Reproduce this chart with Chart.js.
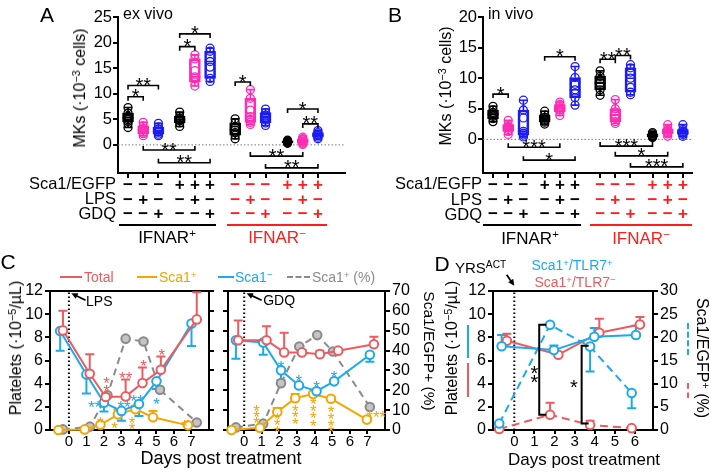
<!DOCTYPE html>
<html>
<head>
<meta charset="utf-8">
<script src="https://cdn.jsdelivr.net/npm/chart.js@4.4.1/dist/chart.umd.min.js"></script>
<style>
body { margin: 0; background: #fff; }
#fig { position: relative; width: 711px; height: 475px; overflow: hidden; background: #fff;
       font-family: 'Liberation Sans', Arial, Helvetica, sans-serif; color: #000; }
#fig canvas { position: absolute; }
.t { position: absolute; white-space: nowrap; line-height: 1; }
.c { transform: translate(-50%, -50%); }
.r { transform: translate(-100%, -50%); }
.l { transform: translate(0, -50%); }
.up { transform: translate(-50%, -50%) rotate(-90deg); }
.dn { transform: translate(-50%, -50%) rotate(90deg); }
sup { font-size: 0.68em; vertical-align: 0.45em; line-height: 0; }
.rule { position: absolute; height: 2px; }
.vbar { position: absolute; width: 0; }
</style>
</head>
<body>
<div id="fig">
  <canvas id="chartA" width="355" height="222" style="left:0;top:0"></canvas>
  <canvas id="chartB" width="356" height="222" style="left:355px;top:0"></canvas>
  <canvas id="chartC1" width="218" height="210" style="left:0;top:240px"></canvas>
  <canvas id="chartC2" width="222" height="210" style="left:218px;top:240px"></canvas>
  <canvas id="chartD" width="271" height="210" style="left:440px;top:240px"></canvas>

  <!-- panel A -->
  <div class="t c" style="left:47px;top:14px;font-size:21px">A</div>
  <div class="t l" style="left:123px;top:14px;font-size:16px">ex vivo</div>
  <div class="t up" style="left:80px;top:88px;font-size:16px">MKs (·10<sup>−3</sup> cells)</div>
  <div class="t r" style="left:116px;top:183px;font-size:16.5px">Sca1/EGFP</div>
  <div class="t r" style="left:116px;top:198px;font-size:16.5px">LPS</div>
  <div class="t r" style="left:116px;top:212.5px;font-size:16.5px">GDQ</div>
  <div class="rule" style="left:119px;top:224px;width:97px;background:#000"></div>
  <div class="rule" style="left:227px;top:224px;width:100px;background:#ff1d1d"></div>
  <div class="t c" style="left:167px;top:237px;font-size:17px">IFNAR<sup>+</sup></div>
  <div class="t c" style="left:277px;top:237px;font-size:17px;color:#ff1d1d">IFNAR<sup>−</sup></div>

  <!-- panel B -->
  <div class="t c" style="left:395px;top:14px;font-size:21px">B</div>
  <div class="t l" style="left:488px;top:14px;font-size:16px">in vivo</div>
  <div class="t up" style="left:446px;top:86px;font-size:16px">MKs (·10<sup>−3</sup> cells)</div>
  <div class="t r" style="left:482px;top:183px;font-size:16.5px">Sca1/EGFP</div>
  <div class="t r" style="left:482px;top:198.5px;font-size:16.5px">LPS</div>
  <div class="t r" style="left:482px;top:213.5px;font-size:16.5px">GDQ</div>
  <div class="rule" style="left:483px;top:224px;width:98px;background:#000"></div>
  <div class="rule" style="left:590px;top:224px;width:102px;background:#ff1d1d"></div>
  <div class="t c" style="left:530px;top:238px;font-size:17px">IFNAR<sup>+</sup></div>
  <div class="t c" style="left:641px;top:238px;font-size:17px;color:#ff1d1d">IFNAR<sup>−</sup></div>

  <!-- panel C -->
  <div class="t c" style="left:8px;top:261px;font-size:21px">C</div>
  <div class="rule" style="left:60px;top:276px;width:22px;background:#ec5b60"></div>
  <div class="t l" style="left:84px;top:277px;font-size:14px;color:#ec5b60">Total</div>
  <div class="rule" style="left:137px;top:276px;width:20px;background:#f2a600"></div>
  <div class="t l" style="left:159px;top:277px;font-size:14px;color:#f2a600">Sca1<sup>+</sup></div>
  <div class="rule" style="left:218px;top:276px;width:16px;background:#1da9ee"></div>
  <div class="t l" style="left:235px;top:277px;font-size:14px;color:#1da9ee">Sca1<sup>−</sup></div>
  <div class="rule" style="left:287px;top:276px;width:23px;height:0;border-top:2px dashed #8a8a8a"></div>
  <div class="t l" style="left:312px;top:277px;font-size:14px;color:#8a8a8a">Sca1<sup>+</sup> (%)</div>
  <div class="t up" style="left:16px;top:348px;font-size:16px">Platelets (·10<sup>−5</sup>/µL)</div>
  <div class="t dn" style="left:429px;top:351px;font-size:15.5px">Sca1/EGFP+ (%)</div>
  <div class="t c" style="left:221px;top:458px;font-size:18px">Days post treatment</div>

  <!-- panel D -->
  <div class="t c" style="left:442px;top:263px;font-size:21px">D</div>
  <div class="t l" style="left:455px;top:267px;font-size:15px">YRS<sup>ACT</sup></div>
  <div class="t c" style="left:572px;top:265px;font-size:14px;color:#1da9ee">Sca1<sup>+</sup>/TLR7<sup>+</sup></div>
  <div class="t c" style="left:575px;top:282px;font-size:14px;color:#ec5b60">Sca1<sup>+</sup>/TLR7<sup>−</sup></div>
  <div class="t up" style="left:452px;top:348px;font-size:16px">Platelets (·10<sup>−5</sup>/µL)</div>
  <div class="vbar" style="left:467px;top:325px;height:33px;border-left:2px solid #1da9ee"></div>
  <div class="vbar" style="left:467px;top:363px;height:34px;border-left:2px solid #ec5b60"></div>
  <div class="t dn" style="left:702px;top:358px;font-size:16px">Sca1/EGFP<sup>+</sup> (%)</div>
  <div class="vbar" style="left:687px;top:323px;height:32px;border-left:2px dashed #1da9ee"></div>
  <div class="vbar" style="left:687px;top:383px;height:15px;border-left:2px dashed #ec5b60"></div>
  <div class="t c" style="left:584px;top:459px;font-size:17px">Days post treatment</div>
</div>

<script>
const FONT = "'Liberation Sans', Arial, Helvetica, sans-serif";
Chart.defaults.font.family = FONT;
Chart.defaults.color = "#000";

const BLACK = "#000000", PINK = "#ff2db4", BLUE = "#1c1cf5", RED = "#ff1d1d";
const C_RED = "#ec5b60", C_YEL = "#f2a600", C_CYAN = "#1da9ee", C_GREY = "#8a8a8a";

// ---- panels A / B: 12 groups, 4 triplets (untreated, LPS, GDQ) ----
const SLOTS = [1, 2, 3, 4.4, 5.4, 6.4, 8.05, 9.05, 10.05, 11.5, 12.5, 13.5];
const GROUP_COLORS = [BLACK, PINK, BLUE, BLACK, PINK, BLUE, BLACK, PINK, BLUE, BLACK, PINK, BLUE];
const SCA1_ROW = ["−", "−", "−", "+", "+", "+", "−", "−", "−", "+", "+", "+"];
const LPS_ROW  = ["−", "+", "−", "−", "+", "−", "−", "+", "−", "−", "+", "−"];
const GDQ_ROW  = ["−", "−", "+", "−", "−", "+", "−", "−", "+", "−", "−", "+"];

// A: ex vivo MKs (x10^-3 cells)
const A_MIN = [3.4, 1.8, 1.8, 3.6, 11.5, 12.4, 1.2, 4.0, 3.8, 0.3, 0.1, 1.2];
const A_Q1  = [4.5, 2.2, 2.1, 4.3, 12.3, 13.0, 1.9, 4.4, 4.3, 0.4, 0.3, 1.5];
const A_MED = [5.3, 2.9, 2.7, 4.9, 13.3, 16.3, 2.9, 5.5, 5.4, 0.6, 0.7, 1.9];
const A_Q3  = [6.2, 3.7, 3.5, 5.6, 16.8, 18.3, 4.3, 9.1, 6.3, 0.8, 1.2, 2.4];
const A_MAX = [7.3, 4.4, 4.2, 6.4, 17.6, 18.9, 5.1, 10.8, 7.0, 0.9, 1.5, 2.8];
const A_PTS = [
  [3.4, 4.2, 4.6, 5.0, 5.3, 5.6, 6.2, 7.3],
  [1.8, 2.2, 2.5, 2.9, 3.2, 3.7, 4.4],
  [1.8, 2.1, 2.5, 2.7, 3.1, 3.5, 4.2],
  [3.6, 4.3, 4.7, 4.9, 5.2, 5.6, 6.4],
  [11.5, 12.3, 13.0, 13.3, 14.5, 16.8, 17.6],
  [12.4, 13.0, 15.2, 16.3, 18.3, 18.9],
  [1.2, 1.9, 2.4, 2.9, 3.5, 4.3, 5.1],
  [4.0, 4.4, 5.0, 5.5, 6.8, 9.1, 10.8],
  [3.8, 4.3, 4.9, 5.4, 5.8, 6.3, 7.0],
  [0.3, 0.4, 0.5, 0.6, 0.7, 0.8, 0.9],
  [0.1, 0.3, 0.5, 0.7, 1.0, 1.2, 1.5],
  [1.2, 1.5, 1.8, 1.9, 2.1, 2.4, 2.8]
];
// [from group, to group, height, stars]
const A_BRACKETS = [
  [0, 1, 9.4, "*"], [0, 2, 11.6, "**"], [3, 4, 19.2, "*"], [3, 5, 21.7, "*"],
  [6, 7, 12.3, "*"], [9, 11, 7.0, "*"], [10, 11, 4.1, "**"],
  [1, 4, -1.0, "**"], [2, 5, -3.5, "**"], [7, 10, -2.2, "**"], [8, 11, -4.5, "**"]
];

// B: in vivo MKs (x10^-3 cells)
const B_MIN = [2.9, 0.8, 0.4, 2.5, 3.9, 5.6, 7.2, 2.6, 7.3, 0.3, 0.5, 0.5];
const B_Q1  = [3.4, 1.3, 0.7, 2.8, 4.5, 6.8, 8.1, 2.9, 7.7, 0.4, 0.9, 0.8];
const B_MED = [4.1, 1.9, 1.3, 3.3, 5.1, 8.1, 9.2, 4.0, 10.0, 0.6, 1.3, 1.1];
const B_Q3  = [4.8, 2.4, 4.8, 4.0, 5.7, 10.1, 10.3, 5.0, 11.7, 0.9, 1.7, 1.6];
const B_MAX = [5.4, 3.1, 6.4, 4.6, 6.1, 11.9, 11.2, 6.5, 12.2, 1.1, 2.4, 2.4];
const B_PTS = [
  [2.9, 3.4, 3.8, 4.1, 4.4, 4.8, 5.4],
  [0.8, 1.3, 1.6, 1.9, 2.1, 2.4, 3.1],
  [0.4, 0.7, 1.0, 1.3, 3.5, 4.8, 6.4],
  [2.5, 2.8, 3.0, 3.3, 3.6, 4.0, 4.6],
  [3.9, 4.5, 4.8, 5.1, 5.4, 5.7, 6.1],
  [5.6, 6.8, 7.5, 8.1, 9.0, 10.1, 11.9],
  [7.2, 8.1, 8.7, 9.2, 9.8, 10.3, 11.2],
  [2.6, 2.9, 3.4, 4.0, 4.5, 5.0, 6.5],
  [7.3, 7.7, 8.5, 10.0, 11.0, 11.7, 12.2],
  [0.3, 0.4, 0.5, 0.6, 0.7, 0.9, 1.1],
  [0.5, 0.9, 1.1, 1.3, 1.5, 1.7, 2.4],
  [0.5, 0.8, 1.0, 1.1, 1.3, 1.6, 2.4]
];
const B_BRACKETS = [
  [0, 1, 7.4, "*"], [3, 5, 13.5, "*"], [6, 7, 13.1, "**"], [7, 8, 13.7, "**"],
  [1, 4, -1.3, "***"], [2, 5, -3.4, "*"], [6, 9, -1.1, "***"], [7, 10, -2.7, "*"], [8, 11, -4.5, "***"]
];

// ---- panel C: platelets after LPS / GDQ ----
const LPS_TOTAL_X  = [-0.34, 1.19, 2.1, 3.24, 4.2, 5.25, 7.3];
const LPS_TOTAL    = [8.6, 4.85, 2.85, 2.9, 4.05, 5.2, 9.55];
const LPS_TOTAL_HI = [10.3, 6.55, 3.1, 4.35, 5.4, 6.35, 11.9];
const LPS_NEG_X    = [-0.5, 1.0, 2.0, 3.0, 4.0, 5.0, 7.0];
const LPS_NEG      = [8.55, 4.8, 2.35, 1.65, 2.25, 4.2, 9.2];
const LPS_NEG_LO   = [6.85, 3.15, 1.6, 0.8, 1.2, 3.55, 7.25];
const LPS_POS_X    = [-0.6, 0.9, 1.8, 2.8, 3.8, 4.8, 6.8];
const LPS_POS      = [0, 0.05, 0.45, 1.35, 1.8, 1.1, 0.4];
const LPS_POS_HI   = [0, 0.05, 0.5, 1.75, 2.1, 1.65, 0.5];
const LPS_PCT_X    = [-0.34, 1.2, 2.2, 3.24, 4.26, 5.2, 7.3];
const LPS_PCT      = [0.3, 1.7, 17.5, 46, 44.6, 20.3, 3.8];
// [day, value, stars, series]
const LPS_STARS = [
  [2.15, 4.4, "*", "total"], [2.15, 3.7, "*", "total"], [3.24, 4.85, "**", "total"],
  [4.26, 5.85, "*", "total"], [5.3, 6.85, "*", "total"],
  [1.48, 2.3, "**", "neg"], [3.15, 2.3, "**", "neg"], [3.9, 2.85, "**", "neg"], [5.0, 2.6, "*", "neg"],
  [1.8, 0.95, "*", "pos"], [2.6, 0.5, "*", "pos"], [3.6, 0.98, "*", "pos"], [3.6, 0.45, "*", "pos"],
  [6.6, 0.66, "*", "pos"]
];

const GDQ_TOTAL_X  = [-0.34, 1.27, 2.27, 3.28, 4.3, 5.34, 7.37];
const GDQ_TOTAL    = [7.75, 7.75, 6.7, 6.7, 6.55, 6.85, 7.4];
const GDQ_TOTAL_HI = [9.45, 8.95, 8.4, 6.9, 6.85, 7.0, 8.05];
const GDQ_NEG_X    = [-0.47, 1.08, 2.09, 3.11, 4.11, 5.11, 7.14];
const GDQ_NEG      = [7.75, 7.55, 5.15, 3.85, 3.35, 4.2, 6.5];
const GDQ_NEG_LO   = [6.15, 6.5, 4.3, 3.7, 3.25, 4.05, 5.9];
const GDQ_POS_X    = [-0.72, 0.89, 1.88, 2.9, 3.92, 4.93, 6.97];
const GDQ_POS      = [0, 0.2, 1.55, 2.75, 3.1, 2.7, 0.9];
const GDQ_POS_HI   = [0, 0.2, 1.9, 3.1, 3.3, 2.8, 1.1];
const GDQ_PCT_X    = [-0.47, 1.08, 2.09, 3.13, 4.15, 5.04, 7.14];
const GDQ_PCT      = [1.3, 3.2, 23.6, 42, 47.8, 39.5, 11.6];
const GDQ_STARS = [
  [2.09, 5.8, "*", "neg"], [3.11, 4.55, "*", "neg"], [4.11, 4.05, "*", "neg"], [5.11, 4.9, "*", "neg"],
  [0.7, 2.0, "*", "pos"], [0.7, 1.43, "*", "pos"], [0.7, 0.9, "*", "pos"],
  [1.88, 1.3, "*", "pos"], [1.88, 0.75, "*", "pos"], [1.88, 0.2, "*", "pos"],
  [2.9, 2.0, "*", "pos"], [2.9, 1.43, "*", "pos"], [2.9, 0.85, "*", "pos"],
  [3.92, 2.56, "*", "pos"], [3.92, 2.0, "*", "pos"], [3.92, 1.34, "*", "pos"], [3.92, 0.71, "*", "pos"],
  [4.93, 1.85, "*", "pos"], [4.93, 1.28, "*", "pos"], [4.93, 0.71, "*", "pos"], [4.93, 0.15, "*", "pos"],
  [7.5, 1.45, "***", "pos"]
];

// ---- panel D: TLR7+ vs TLR7- Sca1+ cells after YRS-ACT ----
const D_POS_X      = [-0.63, 1.97, 3.98, 6.05];
const D_POS        = [7.23, 6.9, 8.05, 8.2];
const D_POS_HI     = [8.2, 7.3, 8.8, 9.0];
const D_NEG_X      = [-0.37, 2.19, 4.23, 6.25];
const D_NEG        = [7.7, 6.5, 8.4, 9.1];
const D_NEG_HI     = [8.3, 6.7, 9.6, 9.75];
const D_PCT_X      = [-0.75, 1.78, 3.77, 5.84];
const D_POS_PCT    = [1.4, 22.7, 18.0, 8.0];
const D_POS_PCT_LO = [1.4, 22.7, 12.6, 4.7];
const D_NEG_PCT    = [0.2, 3.3, 1.1, 0.4];
const D_NEG_PCT_HI = [0.2, 5.9, 2.0, 0.4];
// vertical brackets in % units: [day, top, bottom]
const D_BRACKETS = [[1.24, 22.7, 3.3], [3.35, 18.2, 1.4]];
const D_STARS = [[1.0, 5.3, "*", "k"], [1.0, 4.55, "*", "k"], [2.97, 4.1, "*", "k"]];

const SERIES_COLOR = { total: C_RED, neg: C_CYAN, pos: C_YEL, k: BLACK };

// ---------- helpers ----------
function pts(xs, ys) { return xs.map((x, i) => ({ x: x, y: ys[i] })); }

function drawStar(ctx, text, cx, cy, size, color) {
  ctx.font = size + "px " + FONT;
  ctx.fillStyle = color;
  ctx.textAlign = "center";
  ctx.textBaseline = "alphabetic";
  ctx.fillText(text, cx, cy + 0.58 * size);
}

function axis(extra) {
  const base = {
    border: { color: "#000", width: 2 },
    grid: { display: true, drawOnChartArea: false, color: "#000", lineWidth: 2, tickLength: 5 },
    ticks: { color: "#000", font: { size: 16 }, padding: 1, autoSkip: false, maxRotation: 0 }
  };
  const out = Object.assign({}, base, extra);
  out.grid = Object.assign({}, base.grid, extra.grid || {});
  out.ticks = Object.assign({}, base.ticks, extra.ticks || {});
  return out;
}

// ---------- box plot panels ----------
function boxChart(id, yMax, yAxisW, padRight, xMax, mins, q1s, meds, q3s, maxs, ptsList, brackets) {
  const pointData = [];
  ptsList.forEach((list, g) => list.forEach(v => pointData.push({ x: SLOTS[g], y: v, g: g })));

  const boxExtras = {
    id: "boxExtras",
    beforeDatasetsDraw(chart) {
      const { ctx, scales: { x, y } } = chart;
      ctx.save();
      // dotted zero line
      ctx.strokeStyle = "#777"; ctx.lineWidth = 1; ctx.setLineDash([1.5, 2]);
      ctx.beginPath();
      ctx.moveTo(chart.chartArea.left, y.getPixelForValue(0));
      ctx.lineTo(chart.chartArea.right, y.getPixelForValue(0));
      ctx.stroke();
      ctx.setLineDash([]);
      // whiskers + medians
      ctx.lineWidth = 1.6;
      SLOTS.forEach((s, i) => {
        const px = x.getPixelForValue(s);
        const yMin = y.getPixelForValue(mins[i]), yMx = y.getPixelForValue(maxs[i]);
        const yQ1 = y.getPixelForValue(q1s[i]), yQ3 = y.getPixelForValue(q3s[i]);
        const yMed = y.getPixelForValue(meds[i]);
        ctx.strokeStyle = GROUP_COLORS[i];
        ctx.beginPath();
        ctx.moveTo(px, yMin); ctx.lineTo(px, yQ1);
        ctx.moveTo(px, yQ3); ctx.lineTo(px, yMx);
        ctx.moveTo(px - 4, yMin); ctx.lineTo(px + 4, yMin);
        ctx.moveTo(px - 4, yMx); ctx.lineTo(px + 4, yMx);
        ctx.moveTo(px - 5.5, yMed); ctx.lineTo(px + 5.5, yMed);
        ctx.stroke();
      });
      ctx.restore();
    },
    afterDatasetsDraw(chart) {
      const { ctx, scales: { x, y } } = chart;
      ctx.save();
      ctx.strokeStyle = "#000"; ctx.lineWidth = 1.6;
      brackets.forEach(b => {
        const x1 = x.getPixelForValue(SLOTS[b[0]]), x2 = x.getPixelForValue(SLOTS[b[1]]);
        const py = y.getPixelForValue(b[2]);
        const d = b[2] < 0 ? -4 : 4;
        ctx.beginPath();
        ctx.moveTo(x1, py + d); ctx.lineTo(x1, py); ctx.lineTo(x2, py); ctx.lineTo(x2, py + d);
        ctx.stroke();
        drawStar(ctx, b[3], (x1 + x2) / 2, py - 5, 20, "#000");
      });
      ctx.restore();
    }
  };

  return new Chart(document.getElementById(id), {
    type: "bar",
    data: {
      datasets: [
        {
          type: "scatter",
          data: pointData,
          pointRadius: 4,
          pointBorderWidth: 1.3,
          pointBackgroundColor: "rgba(255,255,255,0)",
          pointBorderColor: pointData.map(p => GROUP_COLORS[p.g])
        },
        {
          type: "bar",
          data: SLOTS.map((s, i) => ({ x: s, y: [q1s[i], q3s[i]] })),
          borderColor: GROUP_COLORS,
          backgroundColor: "rgba(255,255,255,0)",
          borderWidth: 2,
          borderSkipped: false,
          barThickness: 11
        }
      ]
    },
    options: {
      responsive: false, animation: false, devicePixelRatio: 1,
      layout: { padding: { top: 17, right: padRight, left: 0, bottom: 0 } },
      plugins: { legend: { display: false }, tooltip: { enabled: false } },
      scales: {
        x: axis({
          type: "linear", min: 0.34, max: xMax, offset: false,
          afterBuildTicks: s => { s.ticks = SLOTS.map(v => ({ value: v })); },
          afterFit: s => { s.height = 49; },
          grid: { offset: false },
          ticks: {
            padding: 0,
            font: { size: 17, weight: "bold", lineHeight: 0.86 },
            color: c => (c.index >= 6 ? RED : "#000"),
            callback: (v, i) => [SCA1_ROW[i], LPS_ROW[i], GDQ_ROW[i]]
          }
        }),
        y: axis({
          min: -5.5, max: yMax,
          afterBuildTicks: s => {
            const t = [];
            for (let v = 0; v <= yMax; v += 5) t.push({ value: v });
            s.ticks = t;
          },
          afterFit: s => { s.width = yAxisW; },
          ticks: { font: { size: 16.5 }, padding: 1 }
        })
      }
    },
    plugins: [boxExtras]
  });
}

boxChart("chartA", 25, 118, 10, 15.28, A_MIN, A_Q1, A_MED, A_Q3, A_MAX, A_PTS, A_BRACKETS);
boxChart("chartB", 20, 128, 19, 14.1, B_MIN, B_Q1, B_MED, B_Q3, B_MAX, B_PTS, B_BRACKETS);

// ---------- time-course panels ----------
function lineSet(data, color, axisId, dashed, fill) {
  return {
    type: "line", data: data, yAxisID: axisId,
    borderColor: color, borderWidth: 2, borderDash: dashed ? [7, 5] : [],
    pointRadius: 4.3, pointBorderWidth: 2, pointBorderColor: color,
    pointBackgroundColor: fill || "#fff", tension: 0, clip: false
  };
}

function timeExtras(errs, stars, arrow, vbrackets) {
  return {
    id: "timeExtras",
    beforeDatasetsDraw(chart) {
      const { ctx, chartArea: a, scales } = chart;
      ctx.save();
      // top frame
      ctx.strokeStyle = "#000"; ctx.lineWidth = 2;
      ctx.beginPath(); ctx.moveTo(a.left - 1, a.top); ctx.lineTo(a.right + 1, a.top); ctx.stroke();
      // dotted treatment line at day 0
      const x0 = scales.x.getPixelForValue(0);
      ctx.setLineDash([1.5, 2.5]);
      ctx.beginPath(); ctx.moveTo(x0, a.bottom); ctx.lineTo(x0, a.top); ctx.stroke();
      ctx.setLineDash([]);
      // one-sided error bars
      errs.forEach(e => {
        const ds = chart.data.datasets[e.ds];
        const ys = scales[ds.yAxisID];
        ctx.strokeStyle = ds.borderColor;
        chart.getDatasetMeta(e.ds).data.forEach((pt, i) => {
          const pe = ys.getPixelForValue(e.ends[i]);
          if (Math.abs(pe - pt.y) < 1.5) return;
          ctx.beginPath();
          ctx.moveTo(pt.x, pt.y); ctx.lineTo(pt.x, pe);
          ctx.moveTo(pt.x - 4.5, pe); ctx.lineTo(pt.x + 4.5, pe);
          ctx.stroke();
        });
      });
      ctx.restore();
    },
    afterDatasetsDraw(chart) {
      const { ctx, scales } = chart;
      ctx.save();
      stars.forEach(s => drawStar(ctx, s[2], scales.x.getPixelForValue(s[0]),
        scales.y.getPixelForValue(s[1]), s[3] === "k" ? 20 : 17, SERIES_COLOR[s[3]]));
      if (vbrackets) {
        ctx.strokeStyle = "#000"; ctx.lineWidth = 2;
        vbrackets.forEach(b => {
          const px = scales.x.getPixelForValue(b[0]);
          const pt = scales.y2.getPixelForValue(b[1]), pb = scales.y2.getPixelForValue(b[2]);
          ctx.beginPath();
          ctx.moveTo(px + 7, pt); ctx.lineTo(px, pt); ctx.lineTo(px, pb); ctx.lineTo(px + 7, pb);
          ctx.stroke();
        });
      }
      if (arrow) {
        const tx = scales.x.getPixelForValue(arrow.tip[0]), ty = scales.y.getPixelForValue(arrow.tip[1]);
        const fx = scales.x.getPixelForValue(arrow.tail[0]), fy = scales.y.getPixelForValue(arrow.tail[1]);
        const ang = Math.atan2(ty - fy, tx - fx);
        ctx.strokeStyle = "#000"; ctx.fillStyle = "#000"; ctx.lineWidth = 1.8;
        ctx.beginPath(); ctx.moveTo(fx, fy);
        ctx.lineTo(tx - 5 * Math.cos(ang), ty - 5 * Math.sin(ang)); ctx.stroke();
        ctx.beginPath();
        ctx.moveTo(tx, ty);
        ctx.lineTo(tx - 7 * Math.cos(ang - 0.45), ty - 7 * Math.sin(ang - 0.45));
        ctx.lineTo(tx - 7 * Math.cos(ang + 0.45), ty - 7 * Math.sin(ang + 0.45));
        ctx.closePath(); ctx.fill();
        if (arrow.text) {
          ctx.font = "14px " + FONT; ctx.textAlign = "left"; ctx.textBaseline = "middle";
          ctx.fillText(arrow.text, scales.x.getPixelForValue(arrow.at[0]), scales.y.getPixelForValue(arrow.at[1]));
        }
      }
      ctx.restore();
    }
  };
}

function dayAxis(min, max, last) {
  return axis({
    type: "linear", min: min, max: max,
    afterBuildTicks: s => {
      const t = [];
      for (let d = 0; d <= last; d++) t.push({ value: d });
      s.ticks = t;
    },
    afterFit: s => { s.height = 20; },
    grid: { tickLength: 4 },
    ticks: { font: { size: 15 }, padding: -1 }
  });
}

function plateletAxis(width, labels) {
  return axis({
    position: "left", min: 0, max: 12, ticks: { stepSize: 2, padding: 2, callback: v => (labels ? v : "") },
    afterFit: s => { s.width = width; }
  });
}

function pctAxis(pos, width, max, step, labels) {
  return axis({
    position: pos, min: 0, max: max,
    ticks: { stepSize: step, padding: 2, callback: v => (labels ? v : "") },
    afterFit: s => { s.width = width; }
  });
}

const baseOpts = () => ({
  responsive: false, animation: false, devicePixelRatio: 1,
  layout: { padding: { top: 51, left: 0, right: 0, bottom: 0 } },
  plugins: { legend: { display: false }, tooltip: { enabled: false } }
});

// C, LPS arm
new Chart(document.getElementById("chartC1"), {
  type: "line",
  data: {
    datasets: [
      lineSet(pts(LPS_TOTAL_X, LPS_TOTAL), C_RED, "y"),
      lineSet(pts(LPS_NEG_X, LPS_NEG), C_CYAN, "y"),
      lineSet(pts(LPS_POS_X, LPS_POS), C_YEL, "y"),
      lineSet(pts(LPS_PCT_X, LPS_PCT), C_GREY, "y2", true, "#c4c4c4")
    ]
  },
  options: Object.assign(baseOpts(), {
    scales: {
      x: dayAxis(-1.08, 8, 7),
      y: plateletAxis(50, true),
      y2: pctAxis("right", 9, 70, 10, false)
    }
  }),
  plugins: [timeExtras(
    [{ ds: 0, ends: LPS_TOTAL_HI }, { ds: 1, ends: LPS_NEG_LO }, { ds: 2, ends: LPS_POS_HI }],
    LPS_STARS,
    { tip: [0.14, 11.8], tail: [0.95, 11.2], text: "LPS", at: [0.98, 11.05] }
  )]
});

// C, GDQ arm
new Chart(document.getElementById("chartC2"), {
  type: "line",
  data: {
    datasets: [
      lineSet(pts(GDQ_TOTAL_X, GDQ_TOTAL), C_RED, "y"),
      lineSet(pts(GDQ_NEG_X, GDQ_NEG), C_CYAN, "y"),
      lineSet(pts(GDQ_POS_X, GDQ_POS), C_YEL, "y"),
      lineSet(pts(GDQ_PCT_X, GDQ_PCT), C_GREY, "y2", true, "#c4c4c4")
    ]
  },
  options: Object.assign(baseOpts(), {
    scales: {
      x: dayAxis(-0.92, 8, 7),
      y: { display: false, min: 0, max: 12 },
      yL: pctAxis("left", 10, 70, 10, false),
      y2: pctAxis("right", 55, 70, 10, true)
    }
  }),
  plugins: [timeExtras(
    [{ ds: 0, ends: GDQ_TOTAL_HI }, { ds: 1, ends: GDQ_NEG_LO }, { ds: 2, ends: GDQ_POS_HI }],
    GDQ_STARS,
    { tip: [0.14, 11.8], tail: [0.99, 11.2], text: "GDQ", at: [1.08, 11.15] }
  )]
});

// D
const dPosDash = lineSet(pts(D_PCT_X, D_POS_PCT), C_CYAN, "y2", true);
const dNegDash = lineSet(pts(D_PCT_X, D_NEG_PCT), C_RED, "y2", true);
dPosDash.borderDash = [8, 5];
dNegDash.borderDash = [8, 5];
new Chart(document.getElementById("chartD"), {
  type: "line",
  data: {
    datasets: [
      lineSet(pts(D_POS_X, D_POS), C_CYAN, "y"),
      lineSet(pts(D_NEG_X, D_NEG), C_RED, "y"),
      dPosDash,
      dNegDash
    ]
  },
  options: Object.assign(baseOpts(), {
    scales: {
      x: dayAxis(-1.06, 6.9, 6),
      y: plateletAxis(53, true),
      y2: pctAxis("right", 58, 30, 5, true)
    }
  }),
  plugins: [timeExtras(
    [{ ds: 0, ends: D_POS_HI }, { ds: 1, ends: D_NEG_HI }, { ds: 2, ends: D_POS_PCT_LO }, { ds: 3, ends: D_NEG_PCT_HI }],
    D_STARS,
    { tip: [0, 12.45], tail: [-0.38, 13.4] },
    D_BRACKETS
  )]
});
</script>
</body>
</html>
